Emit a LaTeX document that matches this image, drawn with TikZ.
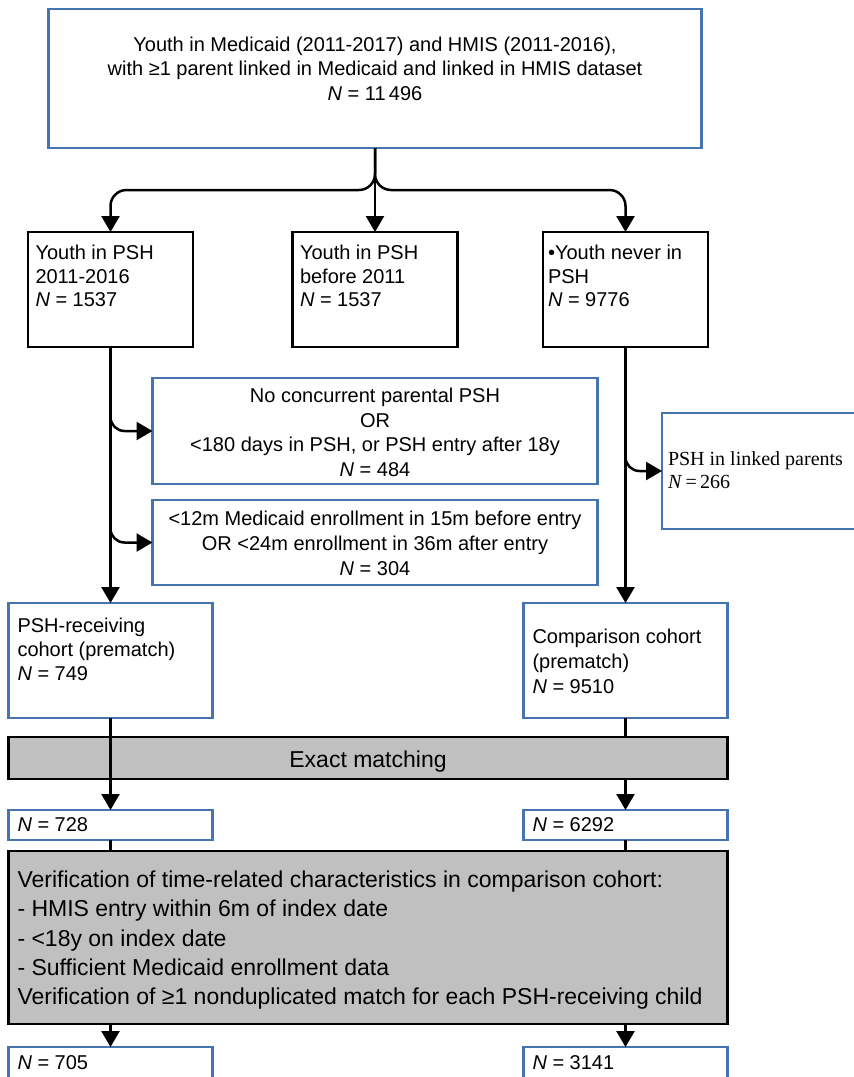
\documentclass[tikz,border=0pt]{standalone}
\usepackage{fontspec}
\setmainfont{Liberation Sans}
\newfontfamily\timesfont{Liberation Serif}
\usetikzlibrary{positioning, arrows.meta}
\definecolor{boxblue}{RGB}{70,116,176}
\definecolor{matchgrey}{RGB}{192,192,192}

\begin{document}
\begin{tikzpicture}[
    x=1pt, y=-1pt,
    every node/.style={outer sep=0pt, inner ysep=0pt, inner xsep=8pt},
    blackbox/.style={draw=black, line width=2.5pt, rectangle, fill=white},
    bluebox/.style={draw=boxblue, line width=2.5pt, rectangle, fill=white},
    greybox/.style={draw=black, line width=2.5pt, rectangle, fill=matchgrey},
    flow/.style={line width=2.5pt, >={Triangle[width=18pt, length=16pt]}},
]

\useasboundingbox (0,0) rectangle (854,1077);

% --- source population ---
\node [
    bluebox,
    minimum width=653pt,
    minimum height=139pt,
    font=\fontsize{20pt}{24.5pt}\selectfont,
] (cohortall) at (375,78.5) {\parbox[c][139pt][t]{637pt}{\centering\vspace*{28pt}Youth in Medicaid (2011-2017) and HMIS (2011-2016),\\with ≥1 parent linked in Medicaid and linked in HMIS dataset\\\textit{N} = 11\,496}};

% --- PSH status ---
\node [
    blackbox,
    below=84pt of cohortall,
    inner xsep=7.5pt,
    minimum width=165pt,
    minimum height=115pt,
    font=\fontsize{20pt}{23.5pt}\selectfont,
] (before2011) {\parbox[c][115pt][t]{150pt}{\vspace*{13.5pt}Youth in PSH\\before 2011\\\textit{N} = 1537}};

\node [
    blackbox,
    left=99.5pt of before2011,
    inner xsep=7.5pt,
    minimum width=165pt,
    minimum height=115pt,
    font=\fontsize{20pt}{23.5pt}\selectfont,
] (youth2011) {\parbox[c][115pt][t]{150pt}{\vspace*{13.5pt}Youth in PSH\\2011-2016\\\textit{N} = 1537}};

\node [
    blackbox,
    right=85.5pt of before2011,
    inner xsep=5pt,
    minimum width=165pt,
    minimum height=115pt,
    font=\fontsize{20pt}{23.5pt}\selectfont,
] (never) {\parbox[c][115pt][t]{155pt}{\vspace*{13.5pt}•Youth never in\\PSH\\\textit{N} = 9776}};

% --- exclusions ---
\node [
    bluebox,
    below=31pt of before2011,
    minimum width=445pt,
    minimum height=106pt,
    font=\fontsize{20pt}{24.6pt}\selectfont,
] (noparent) {\parbox[c][106pt][t]{429pt}{\centering\vspace*{10pt}No concurrent parental PSH\\OR\\<180 days in PSH, or PSH entry after 18y\\\textit{N} = 484}};

\node [
    bluebox,
    below=16pt of noparent,
    minimum width=445pt,
    minimum height=85pt,
    font=\fontsize{20pt}{24.8pt}\selectfont,
] (enrolment) {\parbox[c][85pt][t]{429pt}{\centering\vspace*{11.4pt}<12m Medicaid enrollment in 15m before entry\\OR <24m enrollment in 36m after entry\\\textit{N} = 304}};

\node [
    bluebox,
    right=64.5pt of noparent,
    yshift=-40pt,
    inner xsep=6pt,
    minimum width=210pt,
    minimum height=116pt,
    font=\timesfont\fontsize{20pt}{22.6pt}\selectfont,
] (linkedparents) {\parbox[c][116pt][t]{198pt}{\vspace*{39pt}PSH in linked parents\\\textit{N}\,=\,266}};

% --- prematch cohorts ---
\node [
    bluebox,
    below=256pt of youth2011,
    inner xsep=9pt,
    minimum width=204pt,
    minimum height=115pt,
    font=\fontsize{20pt}{24pt}\selectfont,
] (pshcohort) {\parbox[c][115pt][t]{186pt}{\vspace*{14.7pt}PSH-receiving\\cohort (prematch)\\\textit{N} = 749}};

\node [
    bluebox,
    below=256pt of never,
    inner xsep=9pt,
    minimum width=204pt,
    minimum height=115pt,
    font=\fontsize{20pt}{25pt}\selectfont,
] (comparison) {\parbox[c][115pt][t]{186pt}{\vspace*{25.5pt}Comparison cohort\\(prematch)\\\textit{N} = 9510}};

\node [
    bluebox,
    below=92pt of pshcohort,
    inner xsep=9pt,
    minimum width=204pt,
    minimum height=30pt,
    font=\fontsize{20pt}{24pt}\selectfont,
] (pshexact) {\parbox[c][30pt][t]{186pt}{\vspace*{7.4pt}\textit{N} = 728}};

\node [
    bluebox,
    below=92pt of comparison,
    inner xsep=9pt,
    minimum width=204pt,
    minimum height=30pt,
    font=\fontsize{20pt}{24pt}\selectfont,
] (compexact) {\parbox[c][30pt][t]{186pt}{\vspace*{7.4pt}\textit{N} = 6292}};

% hidden behind the matching bar
\draw [flow, ->] (comparison.south) -- (compexact.north);

% --- matching steps ---
\node [
    greybox,
    below=19pt of pshcohort.south west,
    anchor=north west,
    minimum width=719pt,
    minimum height=42pt,
    font=\fontsize{23pt}{28pt}\selectfont,
] (exactmatch) {\parbox[c][42pt][t]{703pt}{\centering\vspace*{13.4pt}Exact matching}};

\node [
    greybox,
    below=11pt of pshexact.south west,
    anchor=north west,
    inner xsep=9pt,
    minimum width=719pt,
    minimum height=173pt,
    font=\fontsize{23pt}{29.2pt}\selectfont,
] (verification) {\parbox[c][173pt][t]{701pt}{\vspace*{20pt}Verification of time-related characteristics in comparison cohort:\\- HMIS entry within 6m of index date\\- <18y on index date\\- Sufficient Medicaid enrollment data\\Verification of ≥1 nonduplicated match for each PSH-receiving child}};

\node [
    bluebox,
    below=23pt of verification.south west,
    anchor=north west,
    inner xsep=9pt,
    minimum width=204pt,
    minimum height=32pt,
    font=\fontsize{20pt}{24pt}\selectfont,
] (pshfinal) {\parbox[c][32pt][t]{186pt}{\vspace*{8.7pt}\textit{N} = 705}};

\node [
    bluebox,
    right=311pt of pshfinal,
    inner xsep=9pt,
    minimum width=204pt,
    minimum height=32pt,
    font=\fontsize{20pt}{24pt}\selectfont,
] (compfinal) {\parbox[c][32pt][t]{186pt}{\vspace*{8.7pt}\textit{N} = 3141}};

% --- connections ---
\begin{scope}[flow]
\draw [flow, ->, rounded corners=16pt] (cohortall.south) -- ++(0,42) -| (youth2011.north);
\draw [flow, ->, rounded corners=16pt] (cohortall.south) -- ++(0,42) -| (never.north);
\draw [flow, ->] (cohortall.south) -- (before2011.north);

\draw [flow, ->, rounded corners=14pt] (youth2011.south) |- (noparent.west);
\draw [flow, ->, rounded corners=14pt] (youth2011.south) |- (enrolment.west);
\draw [flow, ->] (youth2011.south) -- (pshcohort.north);

\draw [flow, ->, rounded corners=14pt] (never.south) |- (linkedparents.west);
\draw [flow, ->] (never.south) -- (comparison.north);

\draw [flow, ->] (pshcohort.south) -- (pshexact.north);

\draw [flow] (pshexact.south) -- (verification.north -| pshexact.south);
\draw [flow] (compexact.south) -- (verification.north -| compexact.south);

\draw [flow, ->] (verification.south -| pshfinal.north) -- (pshfinal.north);
\draw [flow, ->] (verification.south -| compfinal.north) -- (compfinal.north);
\end{scope}

\end{tikzpicture}
\end{document}
